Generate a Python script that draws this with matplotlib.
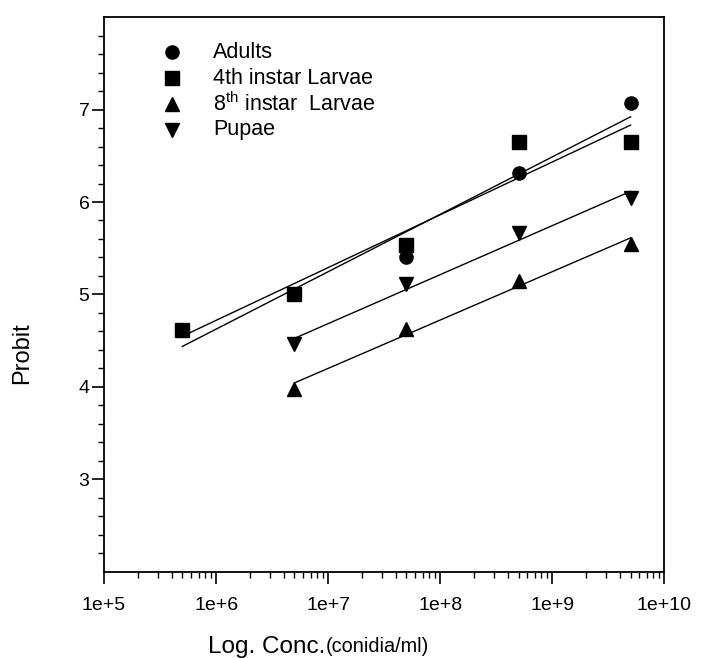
import numpy as np
import matplotlib
matplotlib.use('Agg')
from matplotlib import pyplot as plt

plt.rcParams['font.family'] = ['Liberation Sans', 'DejaVu Sans']
plt.rcParams['mathtext.fontset'] = 'custom'
plt.rcParams['mathtext.rm'] = 'Liberation Sans'

# Data
conc = [5e5, 5e6, 5e7, 5e8, 5e9]
adults = [4.62, 5.00, 5.40, 6.31, 7.07]
larvae4 = [4.62, 5.00, 5.53, 6.65, 6.65]
conc_late = [5e6, 5e7, 5e8, 5e9]
larvae8 = [3.98, 4.63, 5.15, 5.55]
pupae = [4.46, 5.11, 5.67, 6.04]

series = [
    ('Adults', conc, adults, 'o'),
    ('4th instar Larvae', conc, larvae4, 's'),
    (r'8$^{\rm th}$ instar  Larvae', conc_late, larvae8, '^'),
    ('Pupae', conc_late, pupae, 'v'),
]

fig = plt.figure(figsize=(7.03, 6.58), dpi=100)
ax = fig.add_axes([0.148, 0.131, 0.797, 0.843])

for label, x, y, m in series:
    ax.plot(x, y, m, color='black', ms=9.5, linestyle='none', label=label)
    # probit regression line on log10 concentration
    lx = np.log10(x)
    b, a = np.polyfit(lx, y, 1)
    ax.plot(x, a + b * lx, color='black', lw=1.0)

ax.set_xscale('log')
ax.set_xlim(1e5, 1e10)
ax.set_ylim(2, 8)
ax.set_xticks([1e5, 1e6, 1e7, 1e8, 1e9, 1e10])
ax.set_xticklabels(['1e+5', '1e+6', '1e+7', '1e+8', '1e+9', '1e+10'])
ax.set_yticks([3, 4, 5, 6, 7])
ax.set_yticks(np.arange(2.2, 8.0, 0.2), minor=True)
ax.tick_params(axis='both', which='major', direction='out', length=8.5, width=1.2, labelsize=14)
ax.tick_params(axis='both', which='minor', direction='out', length=4.3, width=1.0)
ax.tick_params(axis='x', pad=10)
ax.tick_params(axis='y', pad=2)
for s in ax.spines.values():
    s.set_linewidth(1.3)

fig.text(0.031, 0.4635, 'Probit', fontsize=17, rotation=90, ha='center', va='center')

t1 = fig.text(0.296, 0.017, 'Log. Conc.', fontsize=17.5, ha='left', va='center')
fig.canvas.draw()
bb = t1.get_window_extent()
fig.text(bb.x1 / fig.bbox.width, 0.017, '(conidia/ml)', fontsize=14.3, ha='left', va='center')

# legend entries placed by hand to mimic the original
for i, (label, x, y, m) in enumerate(series):
    yy = 0.937 - i * 0.0468
    ax.plot([0.121], [yy], m, color='black', ms=9.5, transform=ax.transAxes)
    ax.text(0.195, yy, label, fontsize=15.5, va='center', transform=ax.transAxes)

fig.savefig('out.png', dpi=100)
